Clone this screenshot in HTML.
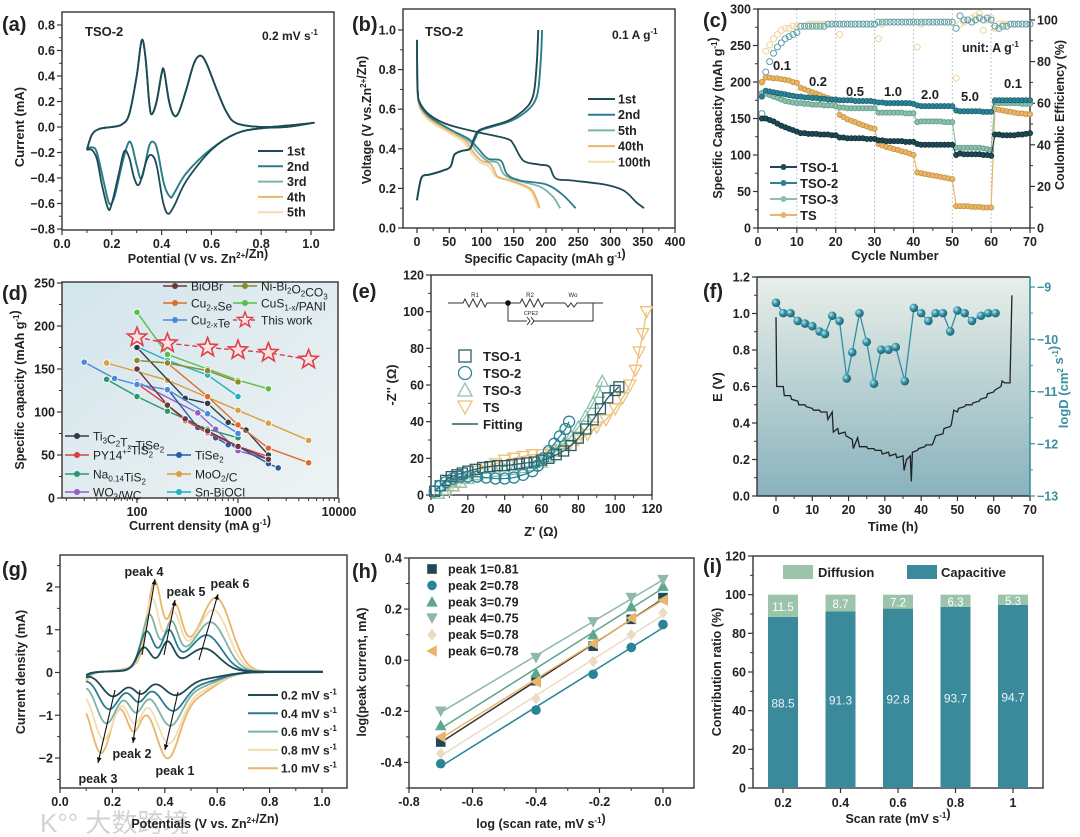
<!DOCTYPE html>
<html><head><meta charset="utf-8">
<style>
html,body{margin:0;padding:0;background:#fff;}
svg{display:block;font-family:"Liberation Sans","Noto Sans CJK SC",sans-serif;font-weight:bold;}
</style></head>
<body>
<svg id="fig" width="1080" height="837" viewBox="0 0 1080 837" xmlns="http://www.w3.org/2000/svg">
<defs>
<linearGradient id="gd" x1="0" y1="0" x2="1" y2="1"><stop offset="0" stop-color="#d3e5ec"/><stop offset="1" stop-color="#eef3f4"/></linearGradient>
<linearGradient id="gf" x1="0" y1="0" x2="0" y2="1"><stop offset="0" stop-color="#e9efe9"/><stop offset="1" stop-color="#88b2bd"/></linearGradient>
<radialGradient id="ball" cx="0.35" cy="0.35" r="0.7"><stop offset="0" stop-color="#bfe6ee"/><stop offset="0.5" stop-color="#2f8fa2"/><stop offset="1" stop-color="#1c5f6e"/></radialGradient>
</defs>
<text x="40" y="832" font-size="26" fill="#c8c8c8" opacity="0.8" font-weight="normal">K°° 大数跨境</text>
</svg>
<script>
// ---------- DATA ----------
// (a)
const aUpper=[[0.10,-0.18],[0.12,-0.06],[0.15,-0.015],[0.2,0.0],[0.24,0.02],[0.27,0.1],[0.3,0.4],[0.32,0.68],[0.335,0.55],[0.35,0.2],[0.36,0.1],[0.38,0.2],[0.40,0.42],[0.41,0.44],[0.43,0.2],[0.45,0.09],[0.47,0.12],[0.50,0.3],[0.53,0.5],[0.555,0.56],[0.58,0.5],[0.62,0.3],[0.66,0.12],[0.7,0.03],[0.8,0.0],[0.9,0.01],[1.0,0.03]];
const aLower1=[[1.0,0.03],[0.9,0.0],[0.8,-0.01],[0.7,-0.05],[0.6,-0.18],[0.5,-0.42],[0.45,-0.62],[0.425,-0.68],[0.405,-0.58],[0.38,-0.3],[0.36,-0.22],[0.34,-0.26],[0.31,-0.45],[0.29,-0.4],[0.27,-0.24],[0.25,-0.19],[0.23,-0.35],[0.2,-0.6],[0.185,-0.64],[0.16,-0.45],[0.14,-0.25],[0.12,-0.18],[0.10,-0.18]];
const aLower2=[[1.0,0.03],[0.9,0.0],[0.8,-0.01],[0.7,-0.05],[0.6,-0.17],[0.5,-0.36],[0.45,-0.52],[0.435,-0.55],[0.41,-0.45],[0.385,-0.2],[0.37,-0.12],[0.35,-0.15],[0.32,-0.4],[0.3,-0.3],[0.28,-0.14],[0.265,-0.13],[0.24,-0.3],[0.21,-0.55],[0.19,-0.6],[0.17,-0.45],[0.14,-0.2],[0.12,-0.16],[0.10,-0.17]];
const aCycles=['1st','2nd','3rd','4th','5th'];
// (b)
const bCharge=[[0,0.14],[3,0.2],[8,0.26],[20,0.27],[40,0.29],[52,0.31],[58,0.37],[70,0.39],[82,0.4],[88,0.45],[95,0.49],[110,0.51],[140,0.54],[160,0.58],[175,0.63],[182,0.7],[186,0.85],[188,1.0]];
const bCharge2=[[0,0.14],[3,0.2],[8,0.26],[20,0.27],[40,0.29],[52,0.31],[58,0.37],[70,0.39],[82,0.4],[90,0.45],[97,0.49],[115,0.51],[145,0.54],[166,0.58],[181,0.63],[188,0.7],[192,0.85],[194,1.0]];
const bDis1=[[0,0.95],[1,0.7],[5,0.63],[20,0.57],[50,0.52],[100,0.48],[140,0.45],[150,0.42],[165,0.34],[190,0.32],[205,0.31],[215,0.25],[240,0.24],[290,0.22],[320,0.19],[340,0.13],[352,0.1]];
const bDis2=[[0,0.95],[1,0.7],[5,0.62],[20,0.56],[50,0.5],[80,0.45],[95,0.4],[110,0.35],[130,0.34],[140,0.27],[160,0.24],[200,0.22],[225,0.17],[246,0.1]];
const bDis5=[[0,0.9],[1,0.7],[5,0.62],[20,0.56],[50,0.5],[80,0.44],[92,0.39],[108,0.34],[125,0.33],[135,0.27],[155,0.24],[190,0.21],[210,0.16],[222,0.1]];
const bDis40=[[0,0.8],[1,0.68],[5,0.61],[20,0.55],[50,0.49],[75,0.44],[88,0.38],[100,0.34],[115,0.32],[125,0.26],[145,0.24],[175,0.2],[185,0.15],[190,0.1]];
const bDis100=[[0,0.78],[1,0.67],[5,0.6],[20,0.54],[50,0.48],[73,0.43],[86,0.37],[98,0.33],[112,0.31],[122,0.26],[142,0.24],[172,0.2],[182,0.15],[188,0.1]];
const bLabels=['1st','2nd','5th','40th','100th'];
// (c)
const cTSO1=[150,150,148,146,143,140,138,136,134,132,130,130,129,129,129,128,128,128,127,127,124,124,123,123,123,123,123,122,122,122,120,120,119,119,119,119,119,118,118,118,115,114,114,114,114,114,114,114,114,114,100,102,101,101,101,101,101,100,100,99,128,128,127,127,127,127,128,128,129,130];
const cTSO2=[180,188,187,186,185,184,183,182,181,180,180,179,179,178,178,177,177,176,176,176,175,175,175,175,174,174,174,174,174,173,172,172,171,171,171,171,171,171,171,170,168,167,167,167,167,167,167,167,167,167,161,160,160,160,160,160,160,159,159,159,175,175,175,175,175,175,175,175,175,175];
const cTSO3=[185,184,182,180,178,176,174,173,172,171,171,170,170,169,169,169,168,168,168,167,165,165,164,164,164,164,164,164,164,164,158,158,158,158,158,158,158,157,157,157,145,146,146,146,146,146,146,145,145,145,110,110,110,110,110,110,110,109,108,107,172,171,171,171,171,171,171,170,170,170];
const cTS=[200,206,206,205,205,204,203,202,200,199,192,190,188,186,184,182,180,178,176,175,155,152,149,147,145,143,141,139,137,136,115,113,111,110,108,107,105,104,102,100,76,75,74,73,72,71,70,69,68,67,30,30,30,30,29,29,29,28,28,28,163,162,161,160,159,158,157,157,156,156];
const cCE_TSO=[55,75,80,84,87,89,91,92,93,94,97,97,97,97,97,97,97,98,98,98,98,98,98,98,98,98,98,98,98,98,99,99,99,99,99,99,99,99,99,99,99,99,99,99,99,99,99,99,99,99,96,102,100,100,99,100,101,100,101,100,97,96,97,97,98,98,98,98,98,98];
const cCE_TS=[70,85,88,91,93,95,96,96,97,97,97,97,98,98,98,98,98,98,98,98,93,98,98,98,98,98,98,98,98,98,91,98,99,99,99,99,99,99,99,99,87,98,99,99,99,99,99,99,99,99,72,98,99,100,101,102,103,95,100,101,96,98,98,98,98,98,98,98,98,98];
const cRates=['0.1','0.2','0.5','1.0','2.0','5.0','0.1'];
// (d)
const dNames=['This work','BiOBr','Ni-Bi2O2CO3','Cu2-xSe','CuS1-x/PANI','Cu2-xTe','Ti3C2Tx-TiSe2','PY14+-TiS2','TiSe2','Na0.14TiS2','MoO2/C','WO3/WC','Sn-BiOCl'];
const dX=[[100,200,500,1000,2000,5000],[100,200,300,500,1000,2000],[100,200,500,1000],[200,500,1000,2000,5000],[100,200,500,1000,2000],[30,60,100,200,500,1000],[100,300,500,800,1200,2000],[100,200,300,500,1000,2000],[200,400,600,800,1000,2000,2500],[50,100,200,300,500,1000],[50,200,1000,2000,5000],[100,400,600,1000,2000],[100,200,500,1000]];
const dY=[[187,180,175,172,169,161],[150,108,92,78,60,45],[160,157,148,135],[157,118,85,58,41],[216,167,150,137,127],[158,139,132,126,98,75],[175,116,110,88,79,50],[133,108,90,76,60,48],[127,82,70,62,60,40,35],[138,118,101,92,80,70],[157,137,102,87,67],[135,99,80,55,45],[176,160,143,118]];
// (e)
const eX1=[2,5,8,11,14,17,20,24,28,32,36,40,44,48,52,56,60,64,68,72,76,80,84,88,92,96,100,102];
const eY1=[2,5,8,10,11,12,13,14,15,15.5,16,16,16.5,17,17.5,18,19,20,22,24,27,31,36,41,47,53,57,59];
const eX2=[2,5,8,12,16,20,25,30,35,40,45,50,55,58,61,64,67,70,73,75];
const eY2=[2,5,7,9,10,10,10,9.5,9,9,9.5,11,13,16,20,24,28,32,36,40];
const eX3=[4,8,12,16,20,25,30,35,40,45,50,55,60,64,68,72,76,80,84,88,91,93];
const eY3=[1,3,5,7,9,11,12,13,13.5,14,15,16,18,21,24,28,32,37,43,50,56,62];
const eX4=[10,15,20,25,30,35,40,45,50,55,60,65,70,75,80,85,90,95,100,104,108,111,113,115,117];
const eY4=[3,7,10,13,15,17,19,20,21,22,22,23,25,27,30,33,37,41,47,53,60,68,78,88,100];
// (f)
const fT=[0,0.2,2,2.3,4,4.3,6,6.3,8,8.3,10,10.3,12,12.3,14,14.3,15.5,15.8,17,17.3,19,19.3,21,21.3,22.5,23,25,25.3,27,27.3,29,29.3,31,31.3,33,33.3,35,35.3,36,37,37.3,37.6,39,39.3,41,41.3,43,43.3,44,46,46.3,48,48.3,49,50,50.3,52,52.3,54,54.3,56,56.3,58,58.3,60,60.3,62,62.3,63,64.5,65];
const fE=[0.98,0.6,0.6,0.55,0.55,0.53,0.52,0.5,0.5,0.49,0.48,0.47,0.47,0.46,0.46,0.42,0.46,0.35,0.37,0.34,0.35,0.33,0.31,0.26,0.32,0.27,0.27,0.26,0.26,0.25,0.25,0.23,0.24,0.22,0.23,0.21,0.22,0.14,0.2,0.22,0.08,0.24,0.25,0.26,0.27,0.28,0.28,0.29,0.33,0.34,0.37,0.38,0.39,0.47,0.46,0.48,0.49,0.5,0.5,0.51,0.52,0.53,0.54,0.56,0.57,0.58,0.6,0.63,0.62,0.62,1.1];
const fDT=[0,2,4,6,8,10,12,13.5,15.5,17.5,19.5,21,23,25,27,29,31,33,35.5,38,40,42,44,46,48,50,52,54,56.5,58.5,60.5];
const fD=[-9.3,-9.5,-9.5,-9.65,-9.7,-9.75,-9.85,-9.9,-9.55,-9.65,-10.75,-10.25,-9.5,-10.05,-10.85,-10.2,-10.2,-10.15,-10.8,-9.4,-9.5,-9.65,-9.5,-9.5,-9.85,-9.45,-9.5,-9.65,-9.55,-9.5,-9.5];
// (g)
const gRates=['0.2','0.4','0.6','0.8','1.0'];
const gP4x=[0.32,0.33,0.34,0.35,0.36], gP4h=[0.5,0.82,1.15,1.45,1.75];
const gP5x=[0.41,0.415,0.425,0.435,0.44], gP5h=[0.55,0.72,0.82,0.92,1.0];
const gP6x=[0.555,0.565,0.58,0.59,0.6], gP6h=[0.45,0.72,1.0,1.27,1.55];
const gP1x=[0.44,0.43,0.42,0.415,0.41], gP1h=[-0.42,-0.7,-0.95,-1.25,-1.5];
const gP2x=[0.31,0.3,0.29,0.285,0.28], gP2h=[-0.35,-0.45,-0.6,-0.75,-0.85];
const gP3x=[0.2,0.185,0.175,0.165,0.155], gP3h=[-0.48,-0.75,-1.05,-1.4,-1.7];
// (h)
const hX=[-0.7,-0.4,-0.22,-0.1,0];
const hPeaks=['peak 1=0.81','peak 2=0.78','peak 3=0.79','peak 4=0.75','peak 5=0.78','peak 6=0.78'];
const hY1=[-0.32,-0.08,0.055,0.16,0.245], hY2=[-0.405,-0.195,-0.055,0.05,0.14], hY3=[-0.255,-0.05,0.1,0.21,0.29];
const hY4=[-0.2,0.01,0.15,0.245,0.315], hY5=[-0.365,-0.15,-0.005,0.1,0.185], hY6=[-0.3,-0.085,0.065,0.165,0.235];
// (i)
const iCats=['0.2','0.4','0.6','0.8','1'];
const iCap=[88.5,91.3,92.8,93.7,94.7];
const iDiff=[11.5,8.7,7.2,6.3,5.3];

// ---------- HELPERS ----------
const NS='http://www.w3.org/2000/svg';
const svg=document.getElementById('fig');
function el(tag,attrs,parent,name){
  const e=document.createElementNS(NS,tag);
  for(const k in attrs)e.setAttribute(k,attrs[k]);
  
  
  (parent||svg).appendChild(e);return e;
}
function txt(p,x,y,s,size,name,anchor,extra){
  const a=Object.assign({x:x,y:y,'font-size':size,'text-anchor':anchor||'start',fill:'#222'},extra||{});
  const t=el('text',a,p,name);t.innerHTML=s;return t;
}
function vtxt(p,x,y,s,size,name,fill){
  const t=el('text',{x:0,y:0,'font-size':size,'text-anchor':'middle',fill:fill||'#222',transform:`translate(${x},${y}) rotate(-90)`},p,name);
  t.innerHTML=s;return t;
}
const sup=s=>`<tspan dy="-5" font-size="8">${s}</tspan><tspan dy="5"></tspan>`;
const sub=s=>`<tspan dy="3" font-size="8">${s}</tspan><tspan dy="-3"></tspan>`;
function lin(d0,d1,r0,r1){return v=>r0+(v-d0)*(r1-r0)/(d1-d0);}
function smooth(pts){
  let d='M'+pts[0][0].toFixed(1)+','+pts[0][1].toFixed(1);
  for(let i=0;i<pts.length-1;i++){
    const p0=pts[i-1]||pts[i],p1=pts[i],p2=pts[i+1],p3=pts[i+2]||p2;
    const c1=[p1[0]+(p2[0]-p0[0])/6,p1[1]+(p2[1]-p0[1])/6],c2=[p2[0]-(p3[0]-p1[0])/6,p2[1]-(p3[1]-p1[1])/6];
    d+=`C${c1[0].toFixed(1)},${c1[1].toFixed(1)} ${c2[0].toFixed(1)},${c2[1].toFixed(1)} ${p2[0].toFixed(1)},${p2[1].toFixed(1)}`;
  }return d;
}
function poly(pts){return 'M'+pts.map(p=>p[0].toFixed(1)+','+p[1].toFixed(1)).join('L');}
function box(g,B,name){el('rect',{x:B.l,y:B.t,width:B.r-B.l,height:B.b-B.t,fill:'none',stroke:'#333','stroke-width':1.4},g,name);}
function xAxis(g,B,sc,ticks,labels,minor){
  ticks.forEach((v,i)=>{
    el('line',{x1:sc(v),x2:sc(v),y1:B.b,y2:B.b+5,stroke:'#333','stroke-width':1.2},g,'x-tick');
    txt(g,sc(v),B.b+18,labels[i],12.5,'x-tick-label','middle');
  });
  (minor||[]).forEach(v=>el('line',{x1:sc(v),x2:sc(v),y1:B.b,y2:B.b+3,stroke:'#333','stroke-width':1},g,'x-minor-tick'));
}
function yAxis(g,B,sc,ticks,labels,minor,right,color){
  const x0=right?B.r:B.l,dir=right?1:-1,c=color||'#333';
  ticks.forEach((v,i)=>{
    el('line',{x1:x0,x2:x0+dir*5,y1:sc(v),y2:sc(v),stroke:c,'stroke-width':1.2},g,'y-tick');
    txt(g,x0+dir*7,sc(v)+4.5,labels[i],12.5,'y-tick-label',right?'start':'end',{fill:color||'#222'});
  });
  (minor||[]).forEach(v=>el('line',{x1:x0,x2:x0+dir*3,y1:sc(v),y2:sc(v),stroke:c,'stroke-width':1},g,'y-minor-tick'));
}
function panel(name){return el('g',{},svg,name);}

// ---------- (a) ----------
(function(){
  const g=panel('panel-a-cv-cycles');const B={l:62,r:334,t:12,b:230};
  const xs=lin(0,1,62,311),ys=lin(-0.8,0.8,229,25);
  box(g,B,'plot-frame-a');
  xAxis(g,B,xs,[0,0.2,0.4,0.6,0.8,1.0],['0.0','0.2','0.4','0.6','0.8','1.0'],[0.1,0.3,0.5,0.7,0.9]);
  yAxis(g,B,ys,[-0.8,-0.6,-0.4,-0.2,0,0.2,0.4,0.6,0.8],['−0.8','−0.6','−0.4','−0.2','0.0','0.2','0.4','0.6','0.8'],[-0.7,-0.5,-0.3,-0.1,0.1,0.3,0.5,0.7]);
  const cols=['#1d4a55','#2a7d90','#7db3a6','#e8b56a','#f3dcae'];
  const lowers=[aLower1,aLower2,aLower2,aLower2,aLower2];
  for(let i=4;i>=0;i--){
    const pts=aUpper.concat(lowers[i]).map(p=>[xs(p[0]),ys(p[1])]);
    el('path',{d:smooth(pts),fill:'none',stroke:cols[i],'stroke-width':1.8},g,'cv-curve-'+aCycles[i]);
  }
  aCycles.forEach((c,i)=>{
    const y=151+i*15.3;
    el('line',{x1:258,x2:283,y1:y,y2:y,stroke:cols[i],'stroke-width':2},g,'legend-line');
    txt(g,287,y+4.5,c,12.5,'legend-label');
  });
  txt(g,2,31,'(a)',20,'panel-label-a');
  txt(g,85,36,'TSO-2',13,'sample-label');
  txt(g,262,40,'0.2 mV s'+sup('-1'),12,'scan-rate-label');
  vtxt(g,24,127,'Current (mA)',13,'y-axis-title');
  txt(g,198,263,'Potential (V vs. Zn'+sup('2+')+'/Zn)',12.5,'x-axis-title','middle');
})();

// ---------- (b) ----------
(function(){
  const g=panel('panel-b-gcd');const B={l:403,r:675,t:9,b:228};
  const xs=lin(0,400,417,675),ys=lin(0,1,228,30);
  box(g,B,'plot-frame-b');
  xAxis(g,B,xs,[0,50,100,150,200,250,300,350,400],['0','50','100','150','200','250','300','350','400'],[25,75,125,175,225,275,325,375]);
  yAxis(g,B,ys,[0,0.2,0.4,0.6,0.8,1.0],['0.0','0.2','0.4','0.6','0.8','1.0'],[0.1,0.3,0.5,0.7,0.9]);
  const cols=['#1d4a55','#2a7d90','#7db3a6','#e8b56a','#f3dcae'];
  const dis=[bDis1,bDis2,bDis5,bDis40,bDis100];
  const ch=[bCharge,bCharge2,bCharge2,bCharge,bCharge];
  for(let i=4;i>=0;i--){
    el('path',{d:smooth(dis[i].map(p=>[xs(p[0]),ys(p[1])])),fill:'none',stroke:cols[i],'stroke-width':1.8},g,'discharge-'+bLabels[i]);
    el('path',{d:smooth(ch[i].map(p=>[xs(p[0]),ys(p[1])])),fill:'none',stroke:cols[i],'stroke-width':1.8},g,'charge-'+bLabels[i]);
  }
  bLabels.forEach((c,i)=>{
    const y=99+i*15.7;
    el('line',{x1:588,x2:615,y1:y,y2:y,stroke:cols[i],'stroke-width':2},g,'legend-line');
    txt(g,618,y+4.5,c,12.5,'legend-label');
  });
  txt(g,352,31,'(b)',20,'panel-label-b');
  txt(g,425,36,'TSO-2',13,'sample-label');
  txt(g,612,39,'0.1 A g'+sup('-1'),12,'current-label');
  vtxt(g,371,120,'Voltage (V vs.Zn'+sup('2+')+'/Zn)',12.5,'y-axis-title');
  txt(g,545,263,'Specific Capacity (mAh g'+sup('-1')+')',12.5,'x-axis-title','middle');
})();

// ---------- (c) ----------
(function(){
  const g=panel('panel-c-rate');const B={l:758,r:1030,t:9,b:228};
  const xs=lin(0,70,758,1030),ys=lin(0,300,228,9),yr=lin(0,100,228,20);
  [10,20,30,40,50,60].forEach(v=>el('line',{x1:xs(v),x2:xs(v),y1:B.t,y2:B.b,stroke:'#bbb','stroke-width':0.8,'stroke-dasharray':'2,2'},g,'rate-divider'));
  box(g,B,'plot-frame-c');
  xAxis(g,B,xs,[0,10,20,30,40,50,60,70],['0','10','20','30','40','50','60','70'],[5,15,25,35,45,55,65]);
  yAxis(g,B,ys,[0,50,100,150,200,250,300],['0','50','100','150','200','250','300'],[25,75,125,175,225,275]);
  yAxis(g,B,yr,[0,20,40,60,80,100],['0','20','40','60','80','100'],[10,30,50,70,90],true);
  const ce=[[cCE_TS,'#f0d49a'],[cCE_TSO,'#5aa0ad']];
  ce.forEach(s=>s[0].forEach((v,i)=>el('circle',{cx:xs(i+1),cy:yr(v),r:3,fill:'none',stroke:s[1],'stroke-width':1},g,'ce-point')));
  const ser=[[cTS,'#e8b56a','#c98f3a','TS'],[cTSO3,'#8cbfae','#5e9a87','TSO-3'],[cTSO2,'#2a8496','#18606e','TSO-2'],[cTSO1,'#1d4a55','#0f2e36','TSO-1']];
  ser.forEach(s=>{
    el('path',{d:poly(s[0].map((v,i)=>[xs(i+1),ys(v)])),fill:'none',stroke:s[1],'stroke-width':1.2},g,'capacity-line-'+s[3]);
    s[0].forEach((v,i)=>el('circle',{cx:xs(i+1),cy:ys(v),r:2.6,fill:s[1],stroke:s[2],'stroke-width':0.8},g,'capacity-point'));
  });
  const lab=[['TSO-1','#1d4a55'],['TSO-2','#2a8496'],['TSO-3','#8cbfae'],['TS','#e8b56a']];
  lab.forEach((l,i)=>{
    const y=167+i*16;
    el('line',{x1:770,x2:797,y1:y,y2:y,stroke:l[1],'stroke-width':2},g,'legend-line');
    el('circle',{cx:783.5,cy:y,r:3,fill:l[1]},g,'legend-marker');
    txt(g,800,y+5,l[0],13,'legend-label');
  });
  const rx=[782,818,855,893,930,970,1013],ry=[70,86,96,96,99,101,88];
  cRates.forEach((r,i)=>txt(g,rx[i],ry[i],r,13,'rate-label','middle'));
  txt(g,962,52,'unit: A g'+sup('-1'),12.5,'unit-label');
  txt(g,703,27,'(c)',20,'panel-label-c');
  vtxt(g,722,118,'Specific Capacity (mAh g'+sup('-1')+')',12.5,'y-axis-title');
  vtxt(g,1064,115,'Coulombic Efficiency (%)',12.5,'y2-axis-title');
  txt(g,895,260,'Cycle Number',13,'x-axis-title','middle');
})();

// ---------- (d) ----------
(function(){
  const g=panel('panel-d-comparison');const B={l:62,r:338,t:282,b:498};
  const xs=v=>137+(Math.log10(v)-2)*101,ys=lin(0,250,498,283);
  el('rect',{x:B.l,y:B.t,width:B.r-B.l,height:B.b-B.t,fill:'url(#gd)'},g,'plot-background');
  box(g,B,'plot-frame-d');
  xAxis(g,B,xs,[100,1000,10000],['100','1000','10000'],[20,30,40,50,60,70,80,90,200,300,400,500,600,700,800,900,2000,3000,4000,5000,6000,7000,8000,9000]);
  yAxis(g,B,ys,[0,50,100,150,200,250],['0','50','100','150','200','250'],[25,75,125,175,225]);
  const cols=['#e0404a','#6a3a3a','#8a8a2a','#e06a2a','#5cbc4a','#4a8ad8','#333b4a','#d84040','#2a5aa0','#2a9a6a','#d8a040','#9a5ac8','#20b0c0'];
  function star(cx,cy,R,r){let s=[];for(let k=0;k<10;k++){const a=-Math.PI/2+k*Math.PI/5,rr=k%2?r:R;s.push((cx+rr*Math.cos(a)).toFixed(1)+','+(cy+rr*Math.sin(a)).toFixed(1));}return s.join(' ');}
  for(let i=dNames.length-1;i>=0;i--){
    const pts=dX[i].map((x,j)=>[xs(x),ys(dY[i][j])]);
    el('path',{d:poly(pts),fill:'none',stroke:cols[i],'stroke-width':1.4,'stroke-dasharray':i===0?'5,3':'none'},g,'series-line-'+dNames[i]);
    pts.forEach(p=>{
      if(i===0){
        el('polygon',{points:star(p[0],p[1],10,4.2),fill:'#fbe3e3',stroke:'#e0404a','stroke-width':1.6},g,'this-work-star');
      }else{
        el('circle',{cx:p[0],cy:p[1],r:3.2,fill:cols[i],stroke:'#fff','stroke-width':0.8},g,'series-marker');
      }
    });
  }
  const leg=[[163,286,'BiOBr',1],[163,303,'Cu'+sub('2-x')+'Se',3],[163,320,'Cu'+sub('2-x')+'Te',5],[233,286,'Ni-Bi'+sub('2')+'O'+sub('2')+'CO'+sub('3'),2],[233,303,'CuS'+sub('1-x')+'/PANI',4],[233,320,'This work',0],
    [65,436,'Ti'+sub('3')+'C'+sub('2')+'T'+sub('x')+'-TiSe'+sub('2'),6],[65,455,'PY14'+sup('+')+'-TiS'+sub('2'),7],[65,474,'Na'+sub('0.14')+'TiS'+sub('2'),9],[65,492,'WO'+sub('3')+'/WC',11],
    [167,455,'TiSe'+sub('2'),8],[167,474,'MoO'+sub('2')+'/C',10],[167,492,'Sn-BiOCl',12]];
  leg.forEach(l=>{
    el('line',{x1:l[0],x2:l[0]+24,y1:l[1],y2:l[1],stroke:cols[l[3]],'stroke-width':1.5,'stroke-dasharray':l[3]===0?'4,2':'none'},g,'legend-line');
    if(l[3]===0)el('polygon',{points:star(l[0]+12,l[1],8,3.4),fill:'#fbe3e3',stroke:'#e0404a','stroke-width':1.4},g,'legend-star');
    else el('circle',{cx:l[0]+12,cy:l[1],r:3,fill:cols[l[3]]},g,'legend-marker');
    txt(g,l[0]+28,l[1]+4.5,l[2],12,'legend-label',null,{'font-weight':'normal'});
  });
  txt(g,2,300,'(d)',20,'panel-label-d');
  vtxt(g,24,390,'Specific capacity (mAh g'+sup('-1')+')',12.5,'y-axis-title');
  txt(g,200,530,'Current density (mA g'+sup('-1')+')',12.5,'x-axis-title','middle');
})();

// ---------- (e) ----------
(function(){
  const g=panel('panel-e-eis');const B={l:431,r:652,t:275,b:495};
  const xs=lin(0,120,431,652),ys=lin(0,120,495,275);
  box(g,B,'plot-frame-e');
  xAxis(g,B,xs,[0,20,40,60,80,100,120],['0','20','40','60','80','100','120'],[10,30,50,70,90,110]);
  yAxis(g,B,ys,[0,20,40,60,80,100,120],['0','20','40','60','80','100','120'],[10,30,50,70,90,110]);
  const S=[[eX4,eY4,'#eec27a','tri-down','TS'],[eX3,eY3,'#8cc0ad','tri','TSO-3'],[eX1,eY1,'#2b5d66','square','TSO-1'],[eX2,eY2,'#2a8496','circle','TSO-2']];
  function mark(shape,x,y,c,s,name){
    if(shape==='square')return el('rect',{x:x-s,y:y-s,width:2*s,height:2*s,fill:'none',stroke:c,'stroke-width':1.3},g,name);
    if(shape==='circle')return el('circle',{cx:x,cy:y,r:s+0.5,fill:'none',stroke:c,'stroke-width':1.3},g,name);
    if(shape==='tri')return el('polygon',{points:`${x},${y-s-1} ${x-s-1},${y+s} ${x+s+1},${y+s}`,fill:'none',stroke:c,'stroke-width':1.3},g,name);
    return el('polygon',{points:`${x},${y+s+1} ${x-s-1},${y-s} ${x+s+1},${y-s}`,fill:'none',stroke:c,'stroke-width':1.3},g,name);
  }
  S.forEach(s=>{
    const pts=s[0].map((x,i)=>[xs(x),ys(s[1][i])]);
    pts.forEach(p=>mark(s[3],p[0],p[1],s[2],5,'eis-point-'+s[4]));
    el('path',{d:smooth(pts),fill:'none',stroke:s[2],'stroke-width':1.3},g,'fitting-line-'+s[4]);
  });
  const leg=[['TSO-1','#2b5d66','square'],['TSO-2','#2a8496','circle'],['TSO-3','#8cc0ad','tri'],['TS','#eec27a','tri-down']];
  leg.forEach((l,i)=>{const y=356+i*17;mark(l[2],465,y,l[1],6,'legend-marker');txt(g,483,y+5,l[0],13,'legend-label');});
  el('line',{x1:452,x2:478,y1:424,y2:424,stroke:'#2b5d66','stroke-width':1.5},g,'legend-line');
  txt(g,483,429,'Fitting',13,'legend-label');
  const c=el('g',{},g,'equivalent-circuit');
  el('path',{d:'M448,303H463l2,-4 4,8 4,-8 4,8 4,-8 4,8 2,-4H520l2,-4 4,8 4,-8 4,8 4,-8 4,8 2,-4H565 M580,303H603 M508,303V321H527 M533,321H593V303',fill:'none',stroke:'#333','stroke-width':1},c,'circuit-wires');
  el('path',{d:'M565,303l3,4 3,-4 3,4 3,-4 3,0 M527,317l3,4 -3,4 M531,317l3,4 -3,4',fill:'none',stroke:'#333','stroke-width':1},c,'circuit-elements');
  el('circle',{cx:508,cy:303,r:2.8,fill:'#111'},c,'circuit-node');
  txt(c,475,297,'R1',6,'label-r1','middle',{'font-weight':'normal'});
  txt(c,530,297,'R2',6,'label-r2','middle',{'font-weight':'normal'});
  txt(c,573,297,'Wo',6,'label-wo','middle',{'font-weight':'normal'});
  txt(c,531,315,'CPE2',5.5,'label-cpe2','middle',{'font-weight':'normal'});
  txt(g,352,298,'(e)',20,'panel-label-e');
  vtxt(g,396,385,'-Z\'\' (Ω)',13,'y-axis-title');
  txt(g,541,536,'Z\' (Ω)',13,'x-axis-title','middle');
})();

// ---------- (f) ----------
(function(){
  const g=panel('panel-f-gitt');const B={l:757,r:1030,t:277,b:496};
  const xs=lin(0,70,776,1030),ys=lin(0,1.2,496,277),yd=lin(-13,-9,496,287);
  el('rect',{x:B.l,y:B.t,width:B.r-B.l,height:B.b-B.t,fill:'url(#gf)'},g,'plot-background');
  el('line',{x1:B.l,x2:B.r,y1:B.t,y2:B.t,stroke:'#333','stroke-width':1.4},g,'frame-top');
  el('line',{x1:B.l,x2:B.l,y1:B.t,y2:B.b,stroke:'#333','stroke-width':1.4},g,'frame-left');
  el('line',{x1:B.l,x2:B.r,y1:B.b,y2:B.b,stroke:'#333','stroke-width':1.4},g,'frame-bottom');
  el('line',{x1:B.r,x2:B.r,y1:B.t,y2:B.b,stroke:'#3a8fa0','stroke-width':1.6},g,'frame-right');
  xAxis(g,B,xs,[0,10,20,30,40,50,60,70],['0','10','20','30','40','50','60','70'],[5,15,25,35,45,55,65]);
  yAxis(g,B,ys,[0,0.2,0.4,0.6,0.8,1.0,1.2],['0.0','0.2','0.4','0.6','0.8','1.0','1.2'],[0.1,0.3,0.5,0.7,0.9,1.1]);
  yAxis(g,B,yd,[-13,-12,-11,-10,-9],['−13','−12','−11','−10','−9'],[-12.5,-11.5,-10.5,-9.5],true,'#3a8fa0');
  el('path',{d:poly(fT.map((t,i)=>[xs(t),ys(fE[i])])),fill:'none',stroke:'#222','stroke-width':1.3},g,'potential-curve');
  const pts=fDT.map((t,i)=>[xs(t),yd(fD[i])]);
  el('path',{d:poly(pts),fill:'none',stroke:'#2f8fa2','stroke-width':1.3},g,'logd-line');
  pts.forEach(p=>el('circle',{cx:p[0],cy:p[1],r:4.3,fill:'url(#ball)'},g,'logd-point'));
  txt(g,703,298,'(f)',20,'panel-label-f');
  vtxt(g,722,387,'E (V)',13,'y-axis-title');
  vtxt(g,1068,387,'logD (cm'+sup('2')+' s'+sup('-1')+')',13,'y2-axis-title','#3a8fa0');
  txt(g,893,531,'Time (h)',13,'x-axis-title','middle');
})();

// ---------- (g) ----------
(function(){
  const g=panel('panel-g-cv-rates');const B={l:60,r:347,t:555,b:788};
  const xs=lin(0,1,60,322),ys=lin(-2,2,758,587);
  box(g,B,'plot-frame-g');
  xAxis(g,B,xs,[0,0.2,0.4,0.6,0.8,1.0],['0.0','0.2','0.4','0.6','0.8','1.0'],[0.1,0.3,0.5,0.7,0.9]);
  yAxis(g,B,ys,[-2,-1,0,1,2],['−2','−1','0','1','2'],[-2.5,-1.5,-0.5,0.5,1.5,2.5]);
  const cols=['#1d4a55','#2a7d90','#7db3a6','#f3dcae','#e8b56a'];
  const G=(x,c,h,w)=>h*Math.exp(-((x-c)*(x-c))/(2*w*w));
  for(let i=4;i>=0;i--){
    const up=[],lo=[];
    for(let x=0.1;x<=1.0001;x+=0.005){
      up.push([xs(x),ys(G(x,gP4x[i],gP4h[i],0.026)+G(x,gP5x[i],gP5h[i],0.024)+G(x,gP6x[i],gP6h[i],0.055)+G(x,0.45,gP6h[i]*0.35,0.1)-(0.08+0.04*i)*Math.exp(-(x-0.1)/0.02)+0.02)]);
      lo.push([xs(x),ys(G(x,gP1x[i],gP1h[i],0.045)+G(x,gP1x[i]+0.1,gP1h[i]*0.35,0.08)+G(x,gP2x[i],gP2h[i],0.028)+G(x,gP3x[i],gP3h[i],0.04)+G(x,0.3,gP3h[i]*0.3,0.1)-(0.08+0.04*i)*Math.exp(-(x-0.1)/0.02)+0.01)]);
    }
    el('path',{d:poly(up.concat(lo.reverse())),fill:'none',stroke:cols[i],'stroke-width':1.8},g,'cv-curve-'+gRates[i]);
  }
  gRates.forEach((r,i)=>{
    const y=695+i*18.3;
    el('line',{x1:248,x2:278,y1:y,y2:y,stroke:cols[i],'stroke-width':2},g,'legend-line');
    txt(g,281,y+4.5,r+' mV s'+sup('-1'),12,'legend-label');
  });
  const arrows=[[142,655,155,579],[164,655,175,600],[199,660,218,594],[115,690,98,763],[140,690,133,743],[178,692,165,750]];
  arrows.forEach(a=>{
    el('line',{x1:a[0],y1:a[1],x2:a[2],y2:a[3],stroke:'#111','stroke-width':1.1},g,'peak-arrow');
    const ang=Math.atan2(a[3]-a[1],a[2]-a[0]),L=6;
    el('polygon',{points:`${a[2]},${a[3]} ${a[2]-L*Math.cos(ang-0.4)},${a[3]-L*Math.sin(ang-0.4)} ${a[2]-L*Math.cos(ang+0.4)},${a[3]-L*Math.sin(ang+0.4)}`,fill:'#111'},g,'arrow-head');
  });
  txt(g,144,576,'peak 4',12.5,'peak-label','middle');
  txt(g,186,596,'peak 5',12.5,'peak-label','middle');
  txt(g,230,588,'peak 6',12.5,'peak-label','middle');
  txt(g,132,758,'peak 2',12.5,'peak-label','middle');
  txt(g,98,783,'peak 3',12.5,'peak-label','middle');
  txt(g,175,775,'peak 1',12.5,'peak-label','middle');
  txt(g,2,576,'(g)',20,'panel-label-g');
  vtxt(g,25,672,'Current density (mA)',12.5,'y-axis-title');
  txt(g,205,828,'Potentials (V vs. Zn'+sup('2+')+'/Zn)',12.5,'x-axis-title','middle');
})();

// ---------- (h) ----------
(function(){
  const g=panel('panel-h-bvalue');const B={l:409,r:694,t:558,b:788};
  const xs=lin(-0.8,0,409,663),ys=lin(-0.5,0.4,788,558);
  box(g,B,'plot-frame-h');
  xAxis(g,B,xs,[-0.8,-0.6,-0.4,-0.2,0],['-0.8','-0.6','-0.4','-0.2','0.0'],[-0.7,-0.5,-0.3,-0.1]);
  yAxis(g,B,ys,[-0.4,-0.2,0,0.2,0.4],['-0.4','-0.2','0.0','0.2','0.4'],[-0.5,-0.3,-0.1,0.1,0.3]);
  const Ys=[hY1,hY2,hY3,hY4,hY5,hY6];
  const cols=['#1c4a55','#2a8496','#5ca88f','#8fb8a8','#ecdcc4','#e8b56a'];
  const shapes=['square','circle','tri','tri-down','diamond','tri-left'];
  function mark(sh,x,y,c,name){
    const s=4.8;
    if(sh==='square')return el('rect',{x:x-s,y:y-s,width:2*s,height:2*s,fill:c},g,name);
    if(sh==='circle')return el('circle',{cx:x,cy:y,r:s,fill:c},g,name);
    let p;
    if(sh==='tri')p=`${x},${y-s-1} ${x-s-1},${y+s} ${x+s+1},${y+s}`;
    else if(sh==='tri-down')p=`${x},${y+s+1} ${x-s-1},${y-s} ${x+s+1},${y-s}`;
    else if(sh==='diamond')p=`${x},${y-s-1} ${x+s},${y} ${x},${y+s+1} ${x-s},${y}`;
    else p=`${x-s-1},${y} ${x+s},${y-s-1} ${x+s},${y+s+1}`;
    return el('polygon',{points:p,fill:c},g,name);
  }
  Ys.forEach((Y,k)=>{
    const n=hX.length,mx=hX.reduce((a,b)=>a+b)/n,my=Y.reduce((a,b)=>a+b)/n;
    let sxy=0,sxx=0;hX.forEach((x,i)=>{sxy+=(x-mx)*(Y[i]-my);sxx+=(x-mx)*(x-mx);});
    const m=sxy/sxx,b=my-m*mx;
    el('line',{x1:xs(-0.7),y1:ys(m*-0.7+b),x2:xs(0),y2:ys(b),stroke:k===0?'#333':cols[k],'stroke-width':1.5},g,'fit-line-peak-'+(k+1));
    hX.forEach((x,i)=>mark(shapes[k],xs(x),ys(Y[i]),cols[k],'data-point-peak-'+(k+1)));
  });
  hPeaks.forEach((l,k)=>{const y=569+k*16.4;mark(shapes[k],432,y,cols[k],'legend-marker');txt(g,448,y+4.5,l,12.5,'legend-label');});
  txt(g,352,578,'(h)',20,'panel-label-h');
  vtxt(g,366,672,'log(peak current, mA)',12.5,'y-axis-title');
  txt(g,541,828,'log (scan rate, mV s'+sup('-1')+')',12.5,'x-axis-title','middle');
})();

// ---------- (i) ----------
(function(){
  const g=panel('panel-i-contribution');const B={l:753,r:1043,t:556,b:788};
  const ys=lin(0,120,788,556),xc=i=>783+i*57.5;
  box(g,B,'plot-frame-i');
  iCats.forEach((c,i)=>{
    el('line',{x1:xc(i),x2:xc(i),y1:B.b,y2:B.b+5,stroke:'#333','stroke-width':1.2},g,'x-tick');
    txt(g,xc(i),B.b+19,c,12.5,'x-tick-label','middle');
  });
  yAxis(g,B,ys,[0,20,40,60,80,100,120],['0','20','40','60','80','100','120'],[10,30,50,70,90,110]);
  iCats.forEach((c,i)=>{
    el('rect',{x:xc(i)-15,y:ys(iCap[i]),width:30,height:ys(0)-ys(iCap[i]),fill:'#3a8a9c'},g,'bar-capacitive-'+c);
    el('rect',{x:xc(i)-15,y:ys(iCap[i]+iDiff[i]),width:30,height:ys(iCap[i])-ys(iCap[i]+iDiff[i]),fill:'#9bc4aa'},g,'bar-diffusion-'+c);
    txt(g,xc(i),ys(iCap[i]/2)+5,iCap[i].toFixed(1),12,'capacitive-value','middle',{fill:'#e8f4f6','font-weight':'normal'});
    txt(g,xc(i),ys(iCap[i]+iDiff[i]/2)+5,iDiff[i].toFixed(1),11.5,'diffusion-value','middle',{fill:'#fff','font-weight':'normal'});
  });
  el('rect',{x:783,y:565,width:30,height:14,fill:'#9bc4aa'},g,'legend-swatch-diffusion');
  txt(g,818,577,'Diffusion',13,'legend-label');
  el('rect',{x:907,y:565,width:30,height:14,fill:'#3a8a9c'},g,'legend-swatch-capacitive');
  txt(g,941,577,'Capacitive',13,'legend-label');
  txt(g,703,573,'(i)',20,'panel-label-i');
  vtxt(g,721,672,'Contribution ratio (%)',12.5,'y-axis-title');
  txt(g,898,823,'Scan rate (mV s'+sup('-1')+')',12.5,'x-axis-title','middle');
})();
</script>
</body></html>
